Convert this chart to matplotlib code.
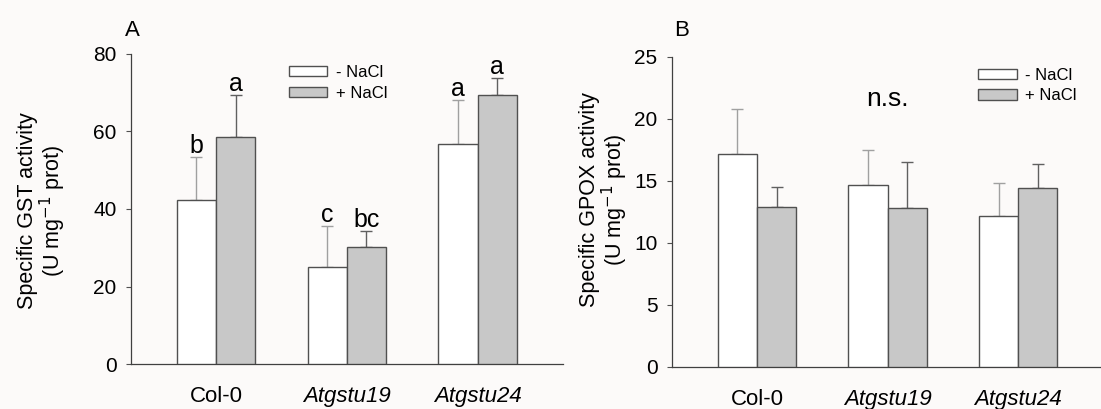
import matplotlib.pyplot as plt
import numpy as np
from matplotlib.patches import Patch

plt.rcParams['font.family'] = ['Liberation Sans', 'DejaVu Sans']

genotypes = ["Col-0", "Atgstu19", "Atgstu24"]

# panel A: GST
gst_ctrl = [42.4, 25.0, 56.9]
gst_ctrl_err = [10.9, 10.6, 11.1]
gst_salt = [58.6, 30.1, 69.5]
gst_salt_err = [10.7, 4.2, 4.3]
gst_letters_ctrl = ["b", "c", "a"]
gst_letters_salt = ["a", "bc", "a"]

# panel B: GPOX
gpox_ctrl = [17.2, 14.7, 12.2]
gpox_ctrl_err = [3.6, 2.75, 2.6]
gpox_salt = [12.9, 12.8, 14.45]
gpox_salt_err = [1.6, 3.7, 1.9]

bg = '#fcfaf9'
edge = '#505050'
w = 0.3
x = np.arange(1, 4)

fig = plt.figure(figsize=(11.01, 4.09), dpi=100, facecolor=bg)
axA = fig.add_axes([0.119, 0.110, 0.392, 0.758])
axB = fig.add_axes([0.6105, 0.1027, 0.3915, 0.7587])


def draw(ax, ctrl, ctrl_err, salt, salt_err, ylim, yticks):
    ax.set_facecolor(bg)
    ax.bar(x - w / 2, ctrl, w, color='white', edgecolor=edge, linewidth=1, zorder=3)
    ax.bar(x + w / 2, salt, w, color='#c8c8c8', edgecolor=edge, linewidth=1, zorder=3)
    ax.errorbar(x - w / 2, ctrl, yerr=[np.zeros(3), ctrl_err], fmt='none',
                ecolor='#a0a0a0', elinewidth=1, capsize=4, capthick=1, zorder=2)
    ax.errorbar(x + w / 2, salt, yerr=[np.zeros(3), salt_err], fmt='none',
                ecolor='#606060', elinewidth=1, capsize=4, capthick=1, zorder=2)
    ax.set_xlim(0.35, 3.65)
    ax.set_ylim(*ylim)
    ax.set_yticks(yticks)
    ax.set_xticks(x)
    labels = ax.set_xticklabels(genotypes, fontsize=16)
    labels[1].set_style('italic')
    labels[2].set_style('italic')
    ax.tick_params(axis='x', length=0, pad=16)
    ax.tick_params(axis='y', length=3.5, width=0.8, color='#505050',
                   labelsize=15, pad=7)
    for s in ['top', 'right']:
        ax.spines[s].set_visible(False)
    for s in ['left', 'bottom']:
        ax.spines[s].set_color('#404040')
        ax.spines[s].set_linewidth(0.9)
    handles = [Patch(facecolor='white', edgecolor=edge, linewidth=1),
               Patch(facecolor='#c8c8c8', edgecolor=edge, linewidth=1)]
    return handles


hA = draw(axA, gst_ctrl, gst_ctrl_err, gst_salt, gst_salt_err, (0, 80), [0, 20, 40, 60, 80])
hB = draw(axB, gpox_ctrl, gpox_ctrl_err, gpox_salt, gpox_salt_err, (0, 25), [0, 5, 10, 15, 20, 25])

# significance letters
for i in range(3):
    axA.annotate(gst_letters_ctrl[i], (x[i] - w / 2, gst_ctrl[i] + gst_ctrl_err[i]),
                 xytext=(0, 3), textcoords='offset points', ha='center', va='baseline', fontsize=18)
    axA.annotate(gst_letters_salt[i], (x[i] + w / 2, gst_salt[i] + gst_salt_err[i]),
                 xytext=(0, 3), textcoords='offset points', ha='center', va='baseline', fontsize=18)
axB.text(2, 21.6, "n.s.", ha='center', va='center', fontsize=19)

axA.set_ylabel("Specific GST activity\n(U mg$^{-1}$ prot)", fontsize=15.5, linespacing=1.0)
axA.yaxis.set_label_coords(-0.146, 0.494)
axB.set_ylabel("Specific GPOX activity\n(U mg$^{-1}$ prot)", fontsize=15.5, linespacing=1.0)
axB.yaxis.set_label_coords(-0.098, 0.54)

fig.text(132 / 1101, 1 - 31 / 409, "A", fontsize=16, ha='center', va='center')
fig.text(682 / 1101, 1 - 30 / 409, "B", fontsize=16, ha='center', va='center')

for ax, h, bx, by in [(axA, hA, 0.366, 0.965), (axB, hB, 0.71, 0.965)]:
    ax.legend(h, ["- NaCl", "+ NaCl"], loc='upper left', bbox_to_anchor=(bx, by),
              frameon=False, fontsize=12, handlelength=2.3, handleheight=0.55,
              handletextpad=0.5, labelspacing=0.35, borderpad=0, borderaxespad=0)

fig.savefig("out.png", dpi=100, facecolor=bg)
